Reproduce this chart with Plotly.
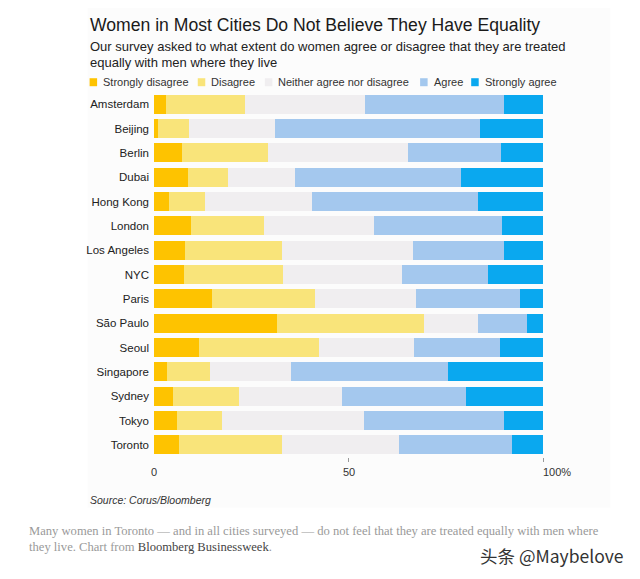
import plotly.graph_objects as go

cities = ["Amsterdam", "Beijing", "Berlin", "Dubai", "Hong Kong", "London", "Los Angeles",
          "NYC", "Paris", "São Paulo", "Seoul", "Singapore", "Sydney", "Tokyo", "Toronto"]
series_names = ["Strongly disagree", "Disagree", "Neither agree nor disagree", "Agree", "Strongly agree"]
strongly_disagree = [3.0, 0.9, 7.3, 8.8, 3.8, 9.4, 7.9, 7.7, 14.8, 31.6, 11.5, 3.3, 5.0, 5.8, 6.5]
disagree = [20.5, 8.0, 22.1, 10.3, 9.2, 19.0, 25.1, 25.5, 26.7, 37.7, 30.9, 11.0, 16.9, 11.7, 26.5]
neither = [30.7, 22.3, 35.8, 17.1, 27.6, 28.1, 33.5, 30.5, 25.8, 14.0, 24.5, 20.8, 26.3, 36.4, 29.9]
agree = [35.7, 52.5, 24.0, 42.7, 42.6, 32.9, 23.5, 22.1, 26.7, 12.7, 22.1, 40.6, 31.9, 36.1, 29.1]
strongly_agree = [10.1, 16.3, 10.8, 21.1, 16.8, 10.6, 10.0, 14.2, 6.0, 4.0, 11.0, 24.3, 19.9, 10.0, 8.0]
tick_vals = [0, 50, 100]
tick_text = ["0", "50", "100%"]

colors = ["#FEC300", "#F9E47A", "#F0EEF0", "#A4C8EE", "#0AA8EF"]
values = [strongly_disagree, disagree, neither, agree, strongly_agree]

# page body has an 8px margin: the figure is drawn at (8, 8); work in window pixels
OFF = 8
W, H = 640 - 2 * OFF, 579 - 2 * OFF
# plot area in window pixels
X0, X1, Y0, Y1 = 154.3, 542.7, 91.8, 457.2
L, R, T, B = X0 - OFF, W - (X1 - OFF), Y0 - OFF, H - (Y1 - OFF)
PW, PH = X1 - X0, Y1 - Y0


def px(x):
    return (x - X0) / PW


def py(y):
    return (Y1 - y) / PH


fig = go.Figure()
for name, vals, col in zip(series_names, values, colors):
    fig.add_trace(go.Bar(
        y=cities, x=vals, name=name, orientation="h",
        marker=dict(color=col, line=dict(width=0)),
        showlegend=False, hoverinfo="x+y+name",
    ))

SANS = "Liberation Sans, Arial, sans-serif"
ann = []
# title & subtitle
ann.append(dict(text="Women in Most Cities Do Not Believe They Have Equality", x=px(88), y=py(25),
                xanchor="left", yanchor="middle", font=dict(family=SANS, size=17.6, color="#1a1a1a")))
ann.append(dict(text="Our survey asked to what extent do women agree or disagree that they are treated",
                x=px(88), y=py(46.5), xanchor="left", yanchor="middle",
                font=dict(family=SANS, size=13, color="#222")))
ann.append(dict(text="equally with men where they live", x=px(88), y=py(62), xanchor="left", yanchor="middle",
                font=dict(family=SANS, size=13, color="#222")))

# legend (manual)
legend_x = [90, 198, 265, 420, 471]
shapes = []
# card background
shapes.append(dict(type="rect", xref="paper", yref="paper", x0=px(88), x1=px(610), y0=py(508), y1=py(-10),
                   fillcolor="#fcfcfc", line=dict(width=0), layer="below"))
for name, col, lx in zip(series_names, colors, legend_x):
    shapes.append(dict(type="rect", xref="paper", yref="paper", x0=px(lx), x1=px(lx + 7.5),
                       y0=py(86), y1=py(78), fillcolor=col, line=dict(width=0)))
    ann.append(dict(text=name, x=px(lx + 11.5), y=py(82), xanchor="left", yanchor="middle",
                    font=dict(family=SANS, size=11, color="#333")))

# x tick labels
for v, t in zip(tick_vals, tick_text):
    ann.append(dict(text=t, x=v, xref="x", y=py(472), yref="paper",
                    xanchor="left" if t.endswith("%") else "center", xshift=-2 if t.endswith("%") else 0,
                    yanchor="middle", font=dict(family=SANS, size=11, color="#333")))

# source
ann.append(dict(text="<i>Source: Corus/Bloomberg</i>", x=px(88), y=py(500), xanchor="left", yanchor="middle",
                font=dict(family=SANS, size=10.5, color="#333")))
# caption
SERIF = "Liberation Serif, serif"
ann.append(dict(text="Many women in Toronto — and in all cities surveyed — do not feel that they are treated equally with men where",
                x=px(27), y=py(531), xanchor="left", yanchor="middle",
                font=dict(family=SERIF, size=12.6, color="#9a9a9a")))
ann.append(dict(text="they live. Chart from <span style='color:#444'>Bloomberg Businessweek</span>.",
                x=px(27), y=py(547), xanchor="left", yanchor="middle",
                font=dict(family=SERIF, size=12.6, color="#9a9a9a")))
# watermark
ann.append(dict(text="头条 @Maybelove", x=px(625), y=py(556), xanchor="right", yanchor="middle",
                font=dict(family="Noto Sans CJK SC, sans-serif", size=17.5, color="#333")))

for a in ann:
    a.setdefault("xref", "paper")
    a.setdefault("yref", "paper")
    a["showarrow"] = False

fig.update_layout(
    barmode="stack", bargap=0.207,
    width=W, height=H,
    margin=dict(l=L, r=R, t=T, b=B, pad=0),
    paper_bgcolor="#ffffff", plot_bgcolor="rgba(0,0,0,0)",
    annotations=ann, shapes=shapes,
    xaxis=dict(range=[0, 100], tickvals=[50, 100], showticklabels=False, ticks="outside", ticklen=4,
               tickcolor="#999", tickwidth=1, showgrid=False, zeroline=False, showline=False, fixedrange=True),
    yaxis=dict(autorange="reversed", showgrid=False, zeroline=False, showline=False, ticks="",
               ticklabelstandoff=4, tickfont=dict(family=SANS, size=11.5, color="#222"), fixedrange=True),
)

fig.write_html("out.html")
